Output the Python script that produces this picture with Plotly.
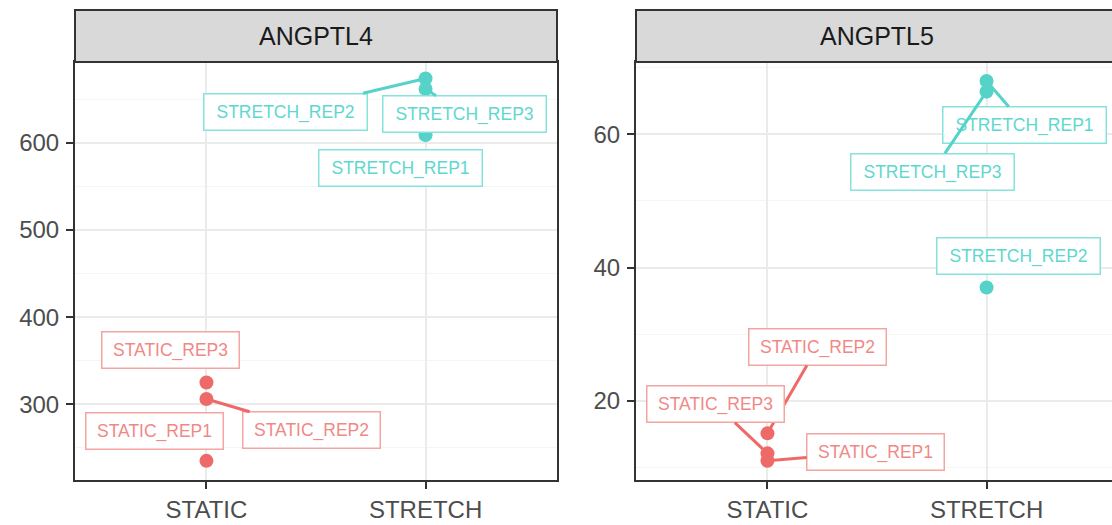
import plotly.graph_objects as go

# --- data -------------------------------------------------------------
conditions = ["STATIC", "STRETCH"]
genes = ["ANGPTL4", "ANGPTL5"]

static_samples = ["STATIC_REP1", "STATIC_REP2", "STATIC_REP3"]
stretch_samples = ["STRETCH_REP1", "STRETCH_REP2", "STRETCH_REP3"]

angptl4_static = [235, 306, 325]
angptl4_stretch = [609, 674, 662]

angptl5_static = [11.0, 15.1, 12.1]
angptl5_stretch = [68.0, 37.0, 66.4]

angptl4_ticks = [300, 400, 500, 600]
angptl5_ticks = [20, 40, 60]

# --- styling ----------------------------------------------------------
W, H = 1112, 525
COL = {"STATIC": "#EE6A68", "STRETCH": "#55D3C9"}
TXT = {"STATIC": "#F08986", "STRETCH": "#5ED8CF"}
BOX = {"STATIC": "#F4A4A1", "STRETCH": "#86E3DC"}
LABEL_W = {"STATIC": 122, "STRETCH": 148}
FONT = "Liberation Sans, Arial, sans-serif"

# repelled label placement (pixel offset of label centre from its point)
label_offsets = {
    "ANGPTL4": {
        "STATIC_REP1": (-52, -30, False),
        "STATIC_REP2": (105, 31, True),
        "STATIC_REP3": (-36, -32, False),
        "STRETCH_REP1": (-25, 33, False),
        "STRETCH_REP2": (-140, 33, True),
        "STRETCH_REP3": (39, 25, True),
    },
    "ANGPTL5": {
        "STATIC_REP1": (108, -9, True),
        "STATIC_REP2": (50, -86, True),
        "STATIC_REP3": (-52, -49, True),
        "STRETCH_REP1": (38, 44, True),
        "STRETCH_REP2": (32, -31, False),
        "STRETCH_REP3": (-54, 80, True),
    },
}

# panel geometry in pixels
panel_top, panel_bottom = 62, 480
strip_top = 10
panels = {
    "ANGPTL4": dict(left=75, right=557, xa="x", ya="y"),
    "ANGPTL5": dict(left=636, right=1118, xa="x2", ya="y2"),
}
px_per_cat = (557 - 75) / 2.2

fig = go.Figure()

panel_data = {
    "ANGPTL4": (angptl4_static, angptl4_stretch, angptl4_ticks, [213, 693], 50),
    "ANGPTL5": (angptl5_static, angptl5_stretch, angptl5_ticks, [8.1, 70.85], 10),
}

annotations = []
shapes = []
for gene in genes:
    st_vals, sr_vals, ticks, yrange, minor_step = panel_data[gene]
    p = panels[gene]
    for cond, vals, names in (("STATIC", st_vals, static_samples),
                              ("STRETCH", sr_vals, stretch_samples)):
        fig.add_trace(go.Scatter(
            x=[cond] * len(vals), y=vals, mode="markers",
            marker=dict(size=14, color=COL[cond]),
            xaxis=p["xa"], yaxis=p["ya"], showlegend=False,
            hovertext=names,
        ))
        for name, v in zip(names, vals):
            ax, ay, seg = label_offsets[gene][name]
            annotations.append(dict(
                x=cond, y=v, xref=p["xa"], yref=p["ya"],
                text=name, showarrow=True, arrowhead=0, arrowwidth=3,
                arrowcolor=COL[cond] if seg else "rgba(0,0,0,0)",
                ax=ax, ay=ay, standoff=0, startstandoff=0,
                font=dict(family=FONT, size=17.5, color=TXT[cond]),
                bgcolor="white", bordercolor=BOX[cond], borderwidth=1.5,
                borderpad=7, width=LABEL_W[cond],
            ))

    # facet strip
    shapes.append(dict(
        type="rect", xref="paper", yref="paper",
        x0=p["left"] / W, x1=p["right"] / W,
        y0=1 - panel_top / H, y1=1 - strip_top / H,
        fillcolor="#D9D9D9", line=dict(color="#333333", width=2), layer="above",
    ))
    annotations.append(dict(
        x=(p["left"] + p["right"]) / 2 / W, y=1 - (panel_top + strip_top) / 2 / H,
        xref="paper", yref="paper", text=gene, showarrow=False,
        font=dict(family=FONT, size=25, color="#1A1A1A"),
        xanchor="center", yanchor="middle",
    ))

    x_right = min(p["right"], W)
    span = (x_right - p["left"]) / px_per_cat
    xaxis = dict(
        domain=[p["left"] / W, x_right / W], anchor=p["ya"],
        type="category", categoryorder="array", categoryarray=conditions,
        range=[-0.6, -0.6 + span],
        showgrid=True, gridcolor="#EBEBEB", gridwidth=2,
        showline=True, linecolor="#333333", linewidth=2, mirror=True,
        ticks="outside", ticklen=7, tickwidth=2, tickcolor="#333333",
        ticklabelstandoff=0,
        tickfont=dict(family=FONT, size=24, color="#4D4D4D"),
        zeroline=False, fixedrange=True,
    )
    yaxis = dict(
        domain=[1 - panel_bottom / H, 1 - panel_top / H], anchor=p["xa"],
        range=yrange, tickvals=ticks,
        showgrid=True, gridcolor="#EBEBEB", gridwidth=2,
        minor=dict(dtick=minor_step, tick0=0, showgrid=True,
                   gridcolor="#F5F5F5", gridwidth=1, ticklen=0),
        showline=True, linecolor="#333333", linewidth=2,
        mirror=(gene == "ANGPTL4"),
        ticks="outside", ticklen=7, tickwidth=2, tickcolor="#333333",
        ticklabelstandoff=2,
        tickfont=dict(family=FONT, size=24, color="#4D4D4D"),
        zeroline=False, fixedrange=True,
    )
    suffix = "" if p["xa"] == "x" else "2"
    fig.layout["xaxis" + suffix] = xaxis
    fig.layout["yaxis" + suffix] = yaxis

fig.update_layout(
    width=W, height=H,
    margin=dict(l=0, r=0, t=0, b=0),
    paper_bgcolor="white", plot_bgcolor="white",
    annotations=annotations, shapes=shapes,
    showlegend=False,
)

fig.write_html("out.html", config={"displayModeBar": False})
